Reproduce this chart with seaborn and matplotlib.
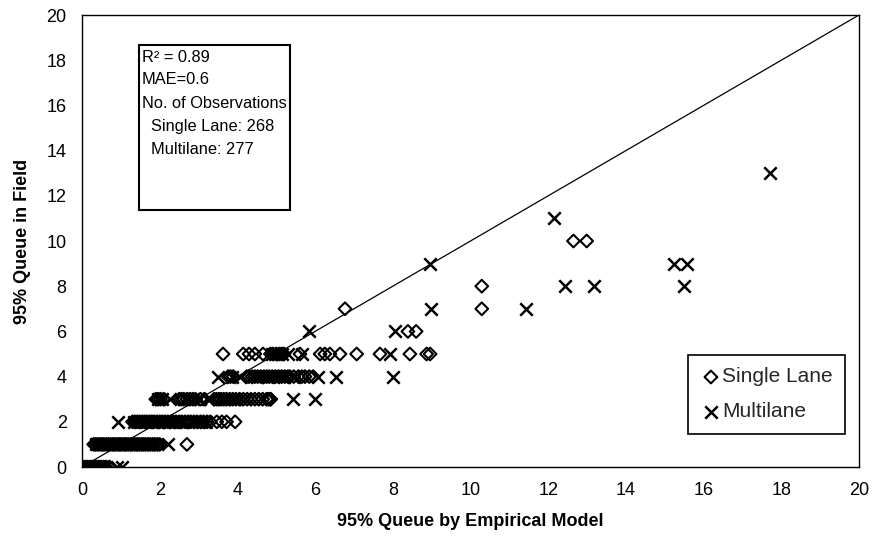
import matplotlib
matplotlib.use("Agg")
import matplotlib.pyplot as plt
import seaborn as sns
from matplotlib.patches import Rectangle

# ---------------- data ----------------
# Single Lane (open diamonds)
single_x = [
    # y = 0
    0.02, 0.08, 0.14, 0.20, 0.26, 0.32, 0.38, 0.44, 0.50, 0.56, 0.62, 0.70,
    # y = 1
    0.30, 0.35, 0.41, 0.46, 0.52, 0.57, 0.63, 0.68, 0.74, 0.80, 0.85, 0.91,
    0.97, 1.02, 1.08, 1.13, 1.19, 1.25, 1.30, 1.36, 1.42, 1.47, 1.53, 1.59,
    1.64, 1.70, 1.76, 1.82, 1.88, 1.94, 2.00, 2.70,
    # y = 2
    1.30, 1.36, 1.42, 1.48, 1.55, 1.61, 1.67, 1.74, 1.80, 1.86, 1.93, 2.00,
    2.07, 2.14, 2.21, 2.28, 2.35, 2.42, 2.50, 2.57, 2.65, 2.73, 2.80, 2.88,
    2.96, 3.05, 3.13, 3.22, 3.30, 3.47, 3.60, 3.72, 3.94,
    # y = 3
    1.90, 1.96, 2.02, 2.10, 2.50, 2.56, 2.62, 2.70, 2.78, 2.85, 2.92, 3.05,
    3.15, 3.40, 3.46, 3.52, 3.58, 3.65, 3.72, 3.80, 3.88, 3.96, 4.05, 4.15,
    4.25, 4.35, 4.45, 4.55, 4.65, 4.75, 4.80, 4.84, 4.86,
    # y = 4
    3.76, 3.82, 3.89, 4.24, 4.30, 4.38, 4.45, 4.52, 4.60, 4.68, 4.75, 4.82,
    4.90, 4.98, 5.06, 5.14, 5.22, 5.30, 5.35, 5.45, 5.57, 5.66, 5.74, 5.85,
    5.95,
    # y = 5
    3.63, 4.15, 4.30, 4.45, 4.66, 4.85, 4.92, 5.00, 5.08, 5.14, 5.20, 5.61,
    6.13, 6.25, 6.38, 6.64, 7.07, 7.67, 8.44, 8.87, 8.96,
    # y = 6
    8.39, 8.60,
    # y = 7
    6.77, 10.29,
    # y = 8
    10.29,
    # y = 10
    12.65, 12.99,
]
single_y = ([0] * 12 + [1] * 32 + [2] * 33 + [3] * 33 + [4] * 25 + [5] * 21
            + [6] * 2 + [7] * 2 + [8] * 1 + [10] * 2)

# Multilane (crosses)
multi_x = [
    # y = 0
    0.00, 0.10, 0.20, 0.30, 0.40, 0.50, 0.60, 0.90, 1.02,
    # y = 1
    0.35, 0.50, 0.65, 0.80, 0.95, 1.10, 1.25, 1.40, 1.55, 1.70, 1.85, 2.22,
    # y = 2
    0.93, 1.35, 1.50, 1.65, 1.80, 1.95, 2.10, 2.25, 2.40, 2.60, 2.83, 3.00,
    3.20,
    # y = 3
    1.95, 2.05, 2.27, 2.85, 3.05, 3.25, 3.65, 3.95, 4.20, 5.44, 6.00,
    # y = 4
    3.50, 3.85, 4.07, 4.50, 4.80, 5.20, 5.45, 6.08, 6.55, 8.00,
    # y = 5
    4.90, 5.05, 5.15, 5.31, 5.65, 7.93,
    # y = 6
    5.84, 8.06,
    # y = 7
    8.98, 11.43,
    # y = 8
    12.43, 13.18, 15.50,
    # y = 9
    8.96, 15.24, 15.57,
    # y = 11
    12.15,
    # y = 13
    17.71,
]
multi_y = ([0] * 9 + [1] * 12 + [2] * 13 + [3] * 11 + [4] * 10 + [5] * 6
           + [6] * 2 + [7] * 2 + [8] * 3 + [9] * 3 + [11] * 1 + [13] * 1)

line_x = [0, 20]
line_y = [0, 20]
ticks = list(range(0, 21, 2))

stats_lines = ["R\u00b2 = 0.89", "MAE=0.6", "No. of Observations",
               "  Single Lane: 268", "  Multilane: 277"]

# ---------------- figure ----------------
sns.set_theme(style="white")
narrow = ["Liberation Sans Narrow", "Liberation Sans", "DejaVu Sans"]
regular = ["Liberation Sans", "Arial", "DejaVu Sans"]
plt.rcParams["font.family"] = regular

fig = plt.figure(figsize=(8.79, 5.51), dpi=100)
ax = fig.add_axes([82 / 879, 1 - 467 / 551, 777 / 879, 452 / 551])

sns.lineplot(x=line_x, y=line_y, color="black", linewidth=0.9, ax=ax)

sns.scatterplot(x=single_x, y=single_y, marker="D", s=42, ax=ax,
                color="black", linewidth=1.5, label="Single Lane", zorder=3)
coll_single = ax.collections[-1]
coll_single.set_facecolor("none")
coll_single.set_edgecolor("black")

sns.scatterplot(x=multi_x, y=multi_y, marker="x", s=80, ax=ax,
                color="black", linewidth=1.8, label="Multilane", zorder=3)
coll_multi = ax.collections[-1]

ax.set_xlim(0, 20)
ax.set_ylim(0, 20)
ax.set_xticks(ticks)
ax.set_yticks(ticks)
ax.set_xticklabels([str(t) for t in ticks], family=narrow, fontsize=13)
ax.set_yticklabels([str(t) for t in ticks], family=narrow, fontsize=13)
ax.tick_params(axis="both", direction="out", length=5, width=1,
               color="black", pad=6, labelcolor="black")
for sp in ax.spines.values():
    sp.set_color("black")
    sp.set_linewidth(1.0)

ax.set_xlabel("95% Queue by Empirical Model", family=narrow,
              fontweight="bold", fontsize=13, labelpad=10, color="black")
ax.set_ylabel("95% Queue in Field", family=narrow,
              fontweight="bold", fontsize=13, labelpad=11, color="black")

# statistics box
def ax_x(px):
    return (px - 82) / 777.0

def ax_y(py):
    return (467 - py) / 452.0

rect = Rectangle((ax_x(139), ax_y(210)), ax_x(290) - ax_x(139),
                 ax_y(45) - ax_y(210), transform=ax.transAxes,
                 facecolor="white", edgecolor="black", linewidth=1.5,
                 zorder=4)
ax.add_patch(rect)
line_py = [57, 80, 103, 127, 150]
for txt, py in zip(stats_lines, line_py):
    ax.text(ax_x(142), ax_y(py), txt, transform=ax.transAxes,
            ha="left", va="center", fontsize=11.8, color="black", zorder=5)

leg = ax.legend(handles=[coll_single, coll_multi],
                labels=["Single Lane", "Multilane"],
                loc="upper left", bbox_to_anchor=(ax_x(688), ax_y(355)),
                borderaxespad=0, frameon=True, fancybox=False,
                edgecolor="black", framealpha=1, fontsize=15,
                handletextpad=0.05, handlelength=1.0, labelspacing=0.75,
                borderpad=0.6, markerscale=1.0)
leg.get_frame().set_linewidth(1.2)

fig.savefig("out.png", dpi=100, facecolor="white")
